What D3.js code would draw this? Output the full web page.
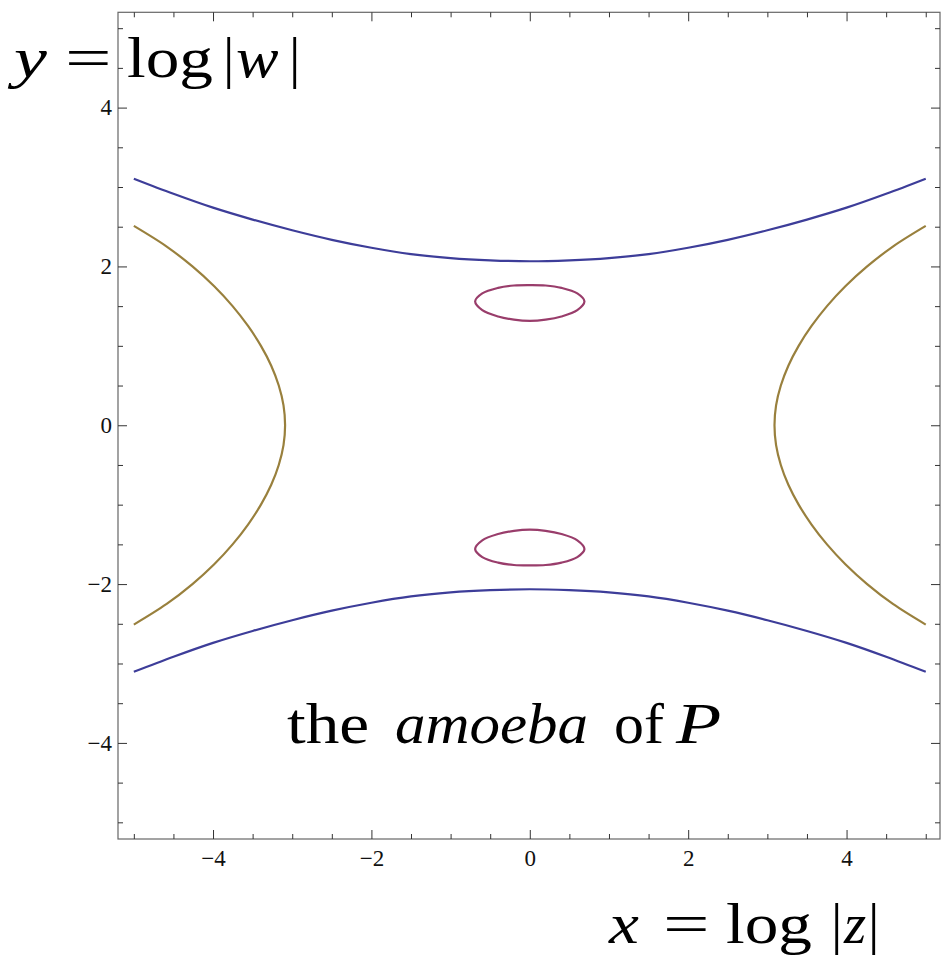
<!DOCTYPE html>
<html>
<head>
<meta charset="utf-8">
<script src="https://cdn.jsdelivr.net/npm/d3@7"></script>
<style>
  body { margin: 0; background: #fff; }
  .big { font-family: 'Liberation Serif', 'Times New Roman', serif; font-size: 57px; fill: #000; }
</style>
</head>
<body>
<div id="chart"></div>
<script>
const width = 941;
const height = 960;

// Curvas
const blueX = [-5, -4.5, -4, -3.5, -3, -2.5, -2, -1.5, -1, -0.5, 0, 0.5, 1, 1.5, 2, 2.5, 3, 3.5, 4, 4.5, 5];
const blueUpperY = [3.105, 2.915, 2.74, 2.59, 2.455, 2.335, 2.235, 2.155, 2.105, 2.077, 2.065, 2.077, 2.105, 2.155, 2.235, 2.335, 2.455, 2.59, 2.74, 2.915, 3.105];
const blueLowerY = [-3.105, -2.915, -2.74, -2.59, -2.455, -2.335, -2.235, -2.155, -2.105, -2.077, -2.065, -2.077, -2.105, -2.155, -2.235, -2.335, -2.455, -2.59, -2.74, -2.915, -3.105];

const oliveY = [2.51, 2.25, 2.0, 1.75, 1.5, 1.25, 1.0, 0.75, 0.5, 0.25, 0, -0.25, -0.5, -0.75, -1.0, -1.25, -1.5, -1.75, -2.0, -2.25, -2.51];
const oliveLeftX = [-5.0, -4.585, -4.26, -3.985, -3.753, -3.558, -3.395, -3.265, -3.17, -3.11, -3.09, -3.11, -3.17, -3.265, -3.395, -3.558, -3.753, -3.985, -4.26, -4.585, -5.0];
const oliveRightX = [5.0, 4.585, 4.26, 3.985, 3.753, 3.558, 3.395, 3.265, 3.17, 3.11, 3.09, 3.11, 3.17, 3.265, 3.395, 3.558, 3.753, 3.985, 4.26, 4.585, 5.0];

const ovalX = [-0.69, -0.6, -0.4, -0.2, 0, 0.2, 0.4, 0.6, 0.69, 0.6, 0.4, 0.2, 0, -0.2, -0.4, -0.6];
const ovalUpperY = [1.56, 1.66, 1.73, 1.76, 1.765, 1.76, 1.73, 1.66, 1.56, 1.45, 1.37, 1.33, 1.315, 1.33, 1.37, 1.45];
const ovalLowerY = [-1.56, -1.66, -1.73, -1.76, -1.765, -1.76, -1.73, -1.66, -1.56, -1.45, -1.37, -1.33, -1.315, -1.33, -1.37, -1.45];

// Ticks
const majorTicks = [-4, -2, 0, 2, 4];
const minorTicks = [-5, -4.5, -3.5, -3, -2.5, -1.5, -1, -0.5, 0.5, 1, 1.5, 2.5, 3, 3.5, 4.5, 5];

const blue = '#3d3d99';
const olive = '#99803d';
const maroon = '#993d6b';

const svg = d3.select('#chart')
  .append('svg')
  .attr('width', width)
  .attr('height', height);

const xScale = d3.scaleLinear()
  .domain([-5.2, 5.18])
  .range([118, 940]);

const yScale = d3.scaleLinear()
  .domain([-5.21, 5.2])
  .range([839, 12.3]);

const fmt = d => (d < 0 ? '\u2212' + Math.abs(d) : '' + d);

// Marco
svg.append('rect')
  .attr('x', xScale.range()[0])
  .attr('y', yScale.range()[1])
  .attr('width', xScale.range()[1] - xScale.range()[0])
  .attr('height', yScale.range()[0] - yScale.range()[1])
  .attr('fill', 'none')
  .attr('stroke', '#666')
  .attr('stroke-width', 1.2);

function drawAxis(axis, transform, labels) {
  const g = svg.append('g')
    .attr('transform', transform)
    .call(axis);
  g.select('.domain').remove();
  g.selectAll('.tick line').attr('stroke', '#333').attr('stroke-width', 1);
  if (labels) {
    g.selectAll('.tick text')
      .attr('font-family', "'Liberation Serif', 'Times New Roman', serif")
      .attr('font-size', 23)
      .attr('fill', '#111');
  } else {
    g.selectAll('.tick text').remove();
  }
  return g;
}

const bottomY = yScale.range()[0];
const topY = yScale.range()[1];
const leftX = xScale.range()[0];
const rightX = xScale.range()[1];

// Eje inferior y superior
drawAxis(d3.axisBottom(xScale).tickValues(majorTicks).tickSize(-9).tickPadding(11).tickFormat(fmt), `translate(0,${bottomY})`, true);
drawAxis(d3.axisBottom(xScale).tickValues(minorTicks).tickSize(-5).tickFormat(''), `translate(0,${bottomY})`, false);
drawAxis(d3.axisTop(xScale).tickValues(majorTicks).tickSize(-9).tickFormat(''), `translate(0,${topY})`, false);
drawAxis(d3.axisTop(xScale).tickValues(minorTicks).tickSize(-5).tickFormat(''), `translate(0,${topY})`, false);

// Eje izquierdo y derecho
drawAxis(d3.axisLeft(yScale).tickValues(majorTicks).tickSize(-9).tickPadding(6).tickFormat(fmt), `translate(${leftX},0)`, true);
drawAxis(d3.axisLeft(yScale).tickValues(minorTicks).tickSize(-5).tickFormat(''), `translate(${leftX},0)`, false);
drawAxis(d3.axisRight(yScale).tickValues(majorTicks).tickSize(-9).tickFormat(''), `translate(${rightX},0)`, false);
drawAxis(d3.axisRight(yScale).tickValues(minorTicks).tickSize(-5).tickFormat(''), `translate(${rightX},0)`, false);

// Curvas
const line = d3.line()
  .x(d => xScale(d[0]))
  .y(d => yScale(d[1]))
  .curve(d3.curveCatmullRom);

const closedLine = d3.line()
  .x(d => xScale(d[0]))
  .y(d => yScale(d[1]))
  .curve(d3.curveCatmullRomClosed);

const curves = [
  { pts: blueX.map((x, i) => [x, blueUpperY[i]]), color: blue, gen: line },
  { pts: blueX.map((x, i) => [x, blueLowerY[i]]), color: blue, gen: line },
  { pts: oliveY.map((y, i) => [oliveLeftX[i], y]), color: olive, gen: line },
  { pts: oliveY.map((y, i) => [oliveRightX[i], y]), color: olive, gen: line },
  { pts: ovalX.map((x, i) => [x, ovalUpperY[i]]), color: maroon, gen: closedLine },
  { pts: ovalX.map((x, i) => [x, ovalLowerY[i]]), color: maroon, gen: closedLine }
];

svg.selectAll('.curve')
  .data(curves)
  .enter()
  .append('path')
  .attr('class', 'curve')
  .attr('d', d => d.gen(d.pts))
  .attr('fill', 'none')
  .attr('stroke', d => d.color)
  .attr('stroke-width', 2.2);

// Textos grandes (glifos algo mas anchos, como Computer Modern)
function bigText(parts, baseline) {
  parts.forEach(p => {
    svg.append('text')
      .attr('class', 'big')
      .attr('transform', `translate(${p.x},${baseline}) scale(${p.sx || 1.18},1)`)
      .attr('font-style', p.italic ? 'italic' : 'normal')
      .text(p.s);
  });
}

bigText([
  { s: 'y', x: 14, italic: true, sx: 1.3 },
  { s: '=', x: 65, sx: 1.45 },
  { s: 'log', x: 127 },
  { s: '|', x: 223, sx: 1 },
  { s: 'w', x: 236, italic: true, sx: 1.12 },
  { s: '|', x: 289, sx: 1 }
], 77);

bigText([
  { s: 'x', x: 609, italic: true },
  { s: '=', x: 663, sx: 1.45 },
  { s: 'log', x: 726 },
  { s: '|', x: 831, sx: 1 },
  { s: 'z', x: 844, italic: true, sx: 1 },
  { s: '|', x: 868, sx: 1 }
], 943);

bigText([
  { s: 'the', x: 287 },
  { s: 'amoeba', x: 395, italic: true, sx: 1.07 },
  { s: 'of', x: 614, sx: 1.05 },
  { s: 'P', x: 676, italic: true, sx: 1.3 }
], 743);
</script>
</body>
</html>
